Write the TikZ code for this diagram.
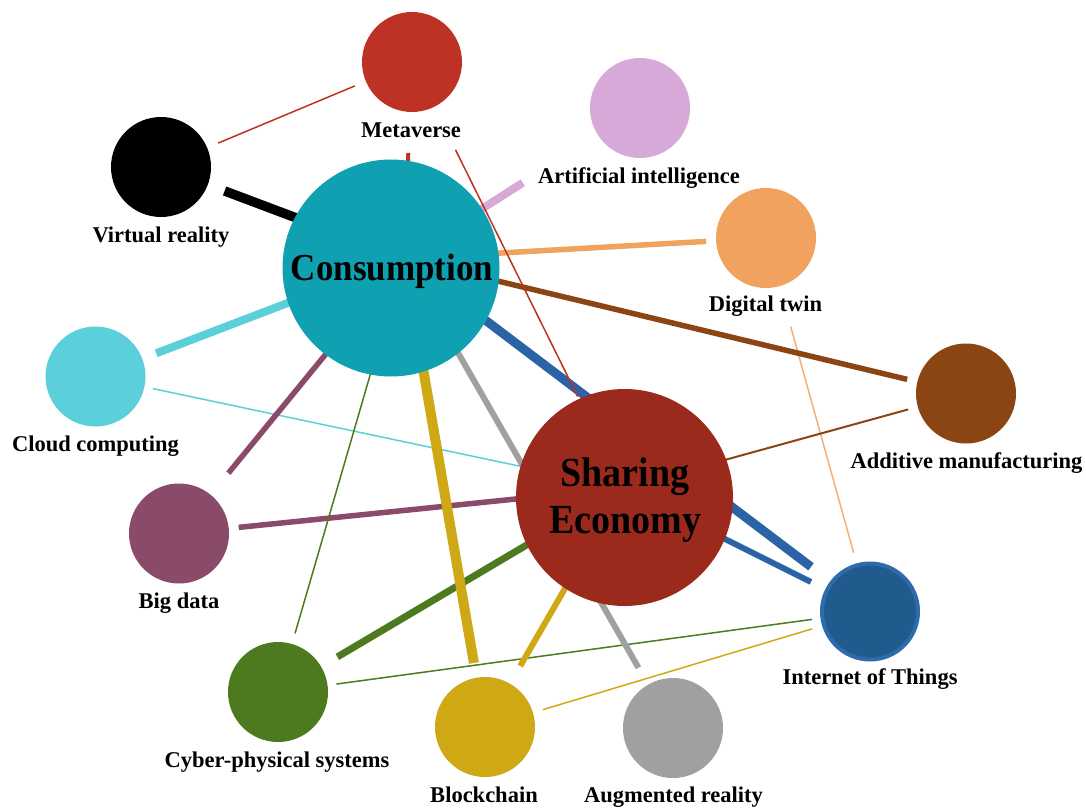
\documentclass[tikz,border=0pt]{standalone}
\usepackage{fontspec}
\setmainfont{Liberation Serif}
\usetikzlibrary{backgrounds}

\definecolor{cons}{HTML}{0FA1B1}
\definecolor{share}{HTML}{9C2A1C}
\definecolor{meta}{HTML}{BD3224}
\definecolor{ai}{HTML}{D7A9D9}
\definecolor{twin}{HTML}{F0A25E}
\definecolor{addm}{HTML}{8B4513}
\definecolor{cloud}{HTML}{5BD0DB}
\definecolor{bigd}{HTML}{8A4A69}
\definecolor{iotin}{HTML}{215A8D}
\definecolor{iotring}{HTML}{2E6BAC}
\definecolor{iotline}{HTML}{2A63A6}
\definecolor{cps}{HTML}{4E7A1F}
\definecolor{chain}{HTML}{CFA816}
\definecolor{arg}{HTML}{A0A0A0}

\tikzset{
  bubble/.style={circle, inner sep=0pt, outer sep=0pt, minimum size=100pt},
  hubc/.style={circle, inner sep=0pt, outer sep=0pt, minimum size=217pt},
  lbl/.style={font=\bfseries\fontsize{22.5}{26}\selectfont, anchor=base, inner sep=0pt},
  biglbl/.style={font=\bfseries\fontsize{#1}{#1}\selectfont, anchor=base, inner sep=0pt,
                 yscale=1.09, transform shape},
  wfine/.style={line width=1.5pt},
  wmid/.style={line width=5.5pt},
  wbig/.style={line width=9.5pt},
}

\begin{document}
\begin{tikzpicture}[x=1pt, y=-1pt]
  \useasboundingbox (0,0) rectangle (1086,808);

  % circles
  \node[hubc, fill=cons] (C) at (391,268) {};
  \node[hubc, fill=share] (S) at (624.5,497.5) {};
  \node[bubble, fill=meta] (M) at (412,62) {};
  \node[bubble, fill=ai] (AI) at (640,108) {};
  \node[bubble, fill=black] (VR) at (161,167) {};
  \node[bubble, fill=twin] (DT) at (766,238) {};
  \node[bubble, fill=addm] (AM) at (966,393.5) {};
  \node[bubble, fill=cloud] (CC) at (95.5,376.5) {};
  \node[bubble, fill=bigd] (BD) at (179,533.5) {};
  \node[bubble, fill=iotin, draw=iotring, line width=4pt, minimum size=96pt] (IoT) at (870,611.5) {};
  \node[bubble, fill=cps] (CPS) at (278,692) {};
  \node[bubble, fill=chain] (BC) at (485,727) {};
  \node[bubble, fill=arg] (AR) at (673,728) {};

  % points where the connectors of the two large circles meet
  \coordinate (Ch) at ([shift={(13,-9.5)}]C.center);
  \coordinate (Sh) at ([shift={(-1.5,-9.5)}]S.center);

  % white page and connectors, behind the circles
  \begin{pgfonlayer}{background}
    \fill[white] (0,0) rectangle (1086,808);
    \draw[meta, wfine, shorten <=62pt, shorten >=62pt] (VR.center) -- (M.center);
    \draw[black, wbig, shorten <=68pt] (VR.center) -- (Ch);
    \draw[meta, line width=4pt, shorten <=91pt] (M.center) -- (Ch);
    \draw[ai, line width=8pt, shorten <=139pt] (AI.center) -- (Ch);
    \draw[twin, wmid, shorten <=60pt] (DT.center) -- (Ch);
    \draw[twin!85!white, wfine, shorten <=92pt, shorten >=61pt] (DT.center) -- (IoT.center);
    \draw[addm, wmid, shorten <=60.5pt] (AM.center) -- (Ch);
    \draw[addm, line width=2pt, shorten <=60pt] (AM.center) -- (Sh);
    \draw[cloud, line width=8pt, shorten <=65pt] (CC.center) -- (Ch);
    \draw[cloud, wfine, shorten <=58.5pt] (CC.center) -- (Sh);
    \draw[bigd, wmid, shorten <=78pt] (BD.center) -- (Ch);
    \draw[bigd, wmid, shorten <=60pt] (BD.center) -- (Sh);
    \draw[iotline, line width=9pt, shorten >=74pt] (Ch) -- (IoT.center);
    \draw[iotline, line width=6pt, shorten >=66pt] (Sh) -- (IoT.center);
    \draw[cps, wfine, shorten <=61pt] (CPS.center) -- (Ch);
    \draw[cps, line width=7pt, shorten <=69pt] (CPS.center) -- (Sh);
    \draw[cps, wfine, shorten <=59pt, shorten >=58.5pt] (CPS.center) -- (IoT.center);
    \draw[chain, line width=10pt, shorten <=65pt] (BC.center) -- (Ch);
    \draw[chain, line width=6pt, shorten <=70.5pt] (BC.center) -- (Sh);
    \draw[chain, wfine, shorten <=60.5pt, shorten >=60.5pt] (BC.center) -- (IoT.center);
    \draw[arg, line width=6pt, shorten <=69.5pt] (AR.center) -- (Ch);
  \end{pgfonlayer}

  % this one runs over the edge of the teal circle
  \draw[meta, wfine, shorten <=98pt, shorten >=102pt] (M.center) -- (Sh);

  % labels
  \node[biglbl=35] (tC) at (392,280) {Consumption};
  \node[biglbl=38] (tS1) at (625,486) {Sharing};
  \node[biglbl=38] (tS2) at (625,533) {Economy};
  \node[lbl] (tM) at (411,137) {Metaverse};
  \node[lbl] (tAI) at (639,183) {Artificial intelligence};
  \node[lbl] (tVR) at (161,242) {Virtual reality};
  \node[lbl] (tDT) at (765.5,311) {Digital twin};
  \node[lbl] (tAM) at (966.5,468) {Additive manufacturing};
  \node[lbl] (tCC) at (95.5,451) {Cloud computing};
  \node[lbl] (tBD) at (179,608) {Big data};
  \node[lbl] (tIoT) at (870,684) {Internet of Things};
  \node[lbl] (tCPS) at (277,767) {Cyber-physical systems};
  \node[lbl] (tBC) at (484,802) {Blockchain};
  \node[lbl] (tAR) at (673.5,802) {Augmented reality};
\end{tikzpicture}
\end{document}
